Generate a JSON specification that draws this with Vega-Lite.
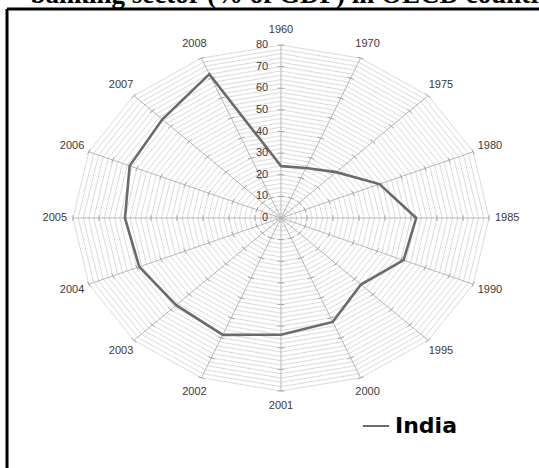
{
  "$schema": "https://vega.github.io/schema/vega-lite/v6.json",
  "usermeta": {"embedOptions": {"actions": false}},
  "width": 532,
  "height": 459,
  "autosize": {"type": "none"},
  "padding": {"left": 7, "top": 9, "right": 0, "bottom": 0},
  "background": "white",
  "title": {
    "text": "banking sector (% of GDP) in OECD countries",
    "anchor": "start",
    "dx": 25,
    "dy": 22,
    "offset": 0,
    "baseline": "alphabetic",
    "font": "Liberation Serif",
    "fontSize": 27,
    "fontWeight": "bold",
    "color": "black"
  },
  "config": {"view": {"stroke": null}},
  "datasets": {
    "cats": [
      {"year": "1960", "k": 0, "v": 24, "country": "India"},
      {"year": "1970", "k": 1, "v": 25, "country": "India"},
      {"year": "1975", "k": 2, "v": 30, "country": "India"},
      {"year": "1980", "k": 3, "v": 41, "country": "India"},
      {"year": "1985", "k": 4, "v": 52, "country": "India"},
      {"year": "1990", "k": 5, "v": 51, "country": "India"},
      {"year": "1995", "k": 6, "v": 43.5, "country": "India"},
      {"year": "2000", "k": 7, "v": 52, "country": "India"},
      {"year": "2001", "k": 8, "v": 54, "country": "India"},
      {"year": "2002", "k": 9, "v": 58.5, "country": "India"},
      {"year": "2003", "k": 10, "v": 57, "country": "India"},
      {"year": "2004", "k": 11, "v": 59, "country": "India"},
      {"year": "2005", "k": 12, "v": 60, "country": "India"},
      {"year": "2006", "k": 13, "v": 63, "country": "India"},
      {"year": "2007", "k": 14, "v": 64.5, "country": "India"},
      {"year": "2008", "k": 15, "v": 72, "country": "India"}
    ]
  },
  "layer": [
    {
      "data": {"values": [{"r": [2,4,6,8,10,12,14,16,18,20,22,24,26,28,30,32,34,36,38,40,42,44,46,48,50,52,54,56,58,60,62,64,66,68,70,72,74,76,78,80], "k": [0,1,2,3,4,5,6,7,8,9,10,11,12,13,14,15]}]},
      "transform": [
        {"flatten": ["r"]},
        {"flatten": ["k"]},
        {"calculate": "datum.k * PI / 8", "as": "a"},
        {"calculate": "datum.r * sin(datum.a)", "as": "px"},
        {"calculate": "datum.r * cos(datum.a)", "as": "py"}
      ],
      "mark": {"type": "line", "interpolate": "linear-closed", "stroke": "#d0d0d0", "strokeWidth": 0.8},
      "encoding": {
        "x": {"field": "px", "type": "quantitative", "scale": {"domain": [-105.38, 99.23], "nice": false, "zero": false}, "axis": null},
        "y": {"field": "py", "type": "quantitative", "scale": {"domain": [-115.61, 96.65], "nice": false, "zero": false}, "axis": null},
        "detail": {"field": "r", "type": "quantitative"},
        "order": {"field": "k", "type": "quantitative"}
      }
    },
    {
      "data": {"name": "cats"},
      "transform": [
        {"calculate": "datum.k * PI / 8", "as": "a"},
        {"calculate": "80 * sin(datum.a)", "as": "px"},
        {"calculate": "80 * cos(datum.a)", "as": "py"}
      ],
      "mark": {"type": "rule", "stroke": "#b0b0b0", "strokeWidth": 0.9},
      "encoding": {
        "x": {"field": "px", "type": "quantitative", "scale": {"domain": [-105.38, 99.23], "nice": false, "zero": false}, "axis": null},
        "y": {"field": "py", "type": "quantitative", "scale": {"domain": [-115.61, 96.65], "nice": false, "zero": false}, "axis": null},
        "x2": {"datum": 0},
        "y2": {"datum": 0}
      }
    },
    {
      "data": {"values": [{"r": [10,20,30,40,50,60,70,80], "k": [0,1,2,3,4,5,6,7,8,9,10,11,12,13,14,15]}]},
      "transform": [
        {"flatten": ["r"]},
        {"flatten": ["k"]},
        {"calculate": "datum.k * PI / 8", "as": "a"},
        {"calculate": "datum.r * sin(datum.a) + 1.3 * cos(datum.a)", "as": "x1"},
        {"calculate": "datum.r * cos(datum.a) - 1.3 * sin(datum.a)", "as": "y1"},
        {"calculate": "datum.r * sin(datum.a) - 1.3 * cos(datum.a)", "as": "x2"},
        {"calculate": "datum.r * cos(datum.a) + 1.3 * sin(datum.a)", "as": "y2"}
      ],
      "mark": {"type": "rule", "stroke": "#a0a0a0", "strokeWidth": 0.9},
      "encoding": {
        "x": {"field": "x1", "type": "quantitative", "scale": {"domain": [-105.38, 99.23], "nice": false, "zero": false}, "axis": null},
        "y": {"field": "y1", "type": "quantitative", "scale": {"domain": [-115.61, 96.65], "nice": false, "zero": false}, "axis": null},
        "x2": {"field": "x2"},
        "y2": {"field": "y2"}
      }
    },
    {
      "data": {"name": "cats"},
      "transform": [
        {"calculate": "datum.k * PI / 8", "as": "a"},
        {"calculate": "datum.v * sin(datum.a)", "as": "px"},
        {"calculate": "datum.v * cos(datum.a)", "as": "py"}
      ],
      "mark": {"type": "line", "interpolate": "linear-closed", "strokeWidth": 2.6},
      "encoding": {
        "x": {"field": "px", "type": "quantitative", "scale": {"domain": [-105.38, 99.23], "nice": false, "zero": false}, "axis": null},
        "y": {"field": "py", "type": "quantitative", "scale": {"domain": [-115.61, 96.65], "nice": false, "zero": false}, "axis": null},
        "order": {"field": "k", "type": "quantitative"},
        "color": {
          "field": "country",
          "type": "nominal",
          "scale": {"domain": ["India"], "range": ["#6b6b6b"]},
          "legend": {
            "orient": "none",
            "legendX": 355,
            "legendY": 403,
            "title": null,
            "padding": 0,
            "symbolType": "stroke",
            "symbolSize": 676,
            "symbolStrokeWidth": 2,
            "labelFontSize": 22,
            "labelFont": "DejaVu Sans",
            "labelFontWeight": "bold",
            "labelColor": "black",
            "labelOffset": 5
          }
        }
      }
    },
    {
      "data": {"name": "cats"},
      "transform": [
        {"calculate": "datum.k * PI / 8", "as": "a"},
        {"calculate": "87 * sin(datum.a)", "as": "px"},
        {"calculate": "87 * cos(datum.a)", "as": "py"}
      ],
      "mark": {"type": "text", "font": "Liberation Sans", "fontSize": 11, "fill": "#3a3a3a", "align": "center", "baseline": "middle"},
      "encoding": {
        "x": {"field": "px", "type": "quantitative", "scale": {"domain": [-105.38, 99.23], "nice": false, "zero": false}, "axis": null},
        "y": {"field": "py", "type": "quantitative", "scale": {"domain": [-115.61, 96.65], "nice": false, "zero": false}, "axis": null},
        "text": {"field": "year", "type": "nominal"}
      }
    },
    {
      "data": {"values": [{"t": 0}, {"t": 10}, {"t": 20}, {"t": 30}, {"t": 40}, {"t": 50}, {"t": 60}, {"t": 70}, {"t": 80}]},
      "mark": {"type": "text", "font": "Liberation Sans", "fontSize": 11, "fill": "#3a3a3a", "align": "right", "baseline": "middle", "dx": -5},
      "encoding": {
        "x": {"datum": -3, "type": "quantitative", "scale": {"domain": [-105.38, 99.23], "nice": false, "zero": false}, "axis": null},
        "y": {"field": "t", "type": "quantitative", "scale": {"domain": [-115.61, 96.65], "nice": false, "zero": false}, "axis": null},
        "text": {"field": "t", "type": "quantitative"}
      }
    },
    {
      "data": {"values": [{"edge": "left"}]},
      "mark": {"type": "rule", "stroke": "black", "strokeWidth": 3},
      "encoding": {
        "x": {"datum": -105.38, "type": "quantitative", "scale": {"domain": [-105.38, 99.23], "nice": false, "zero": false}, "axis": null}
      }
    },
    {
      "data": {"values": [{"edge": "top"}]},
      "mark": {"type": "rule", "stroke": "black", "strokeWidth": 3},
      "encoding": {
        "y": {"datum": 96.65, "type": "quantitative", "scale": {"domain": [-115.61, 96.65], "nice": false, "zero": false}, "axis": null}
      }
    }
  ]
}
